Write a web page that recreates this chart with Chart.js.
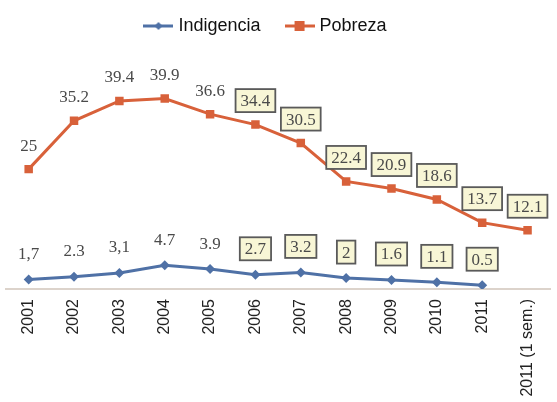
<!DOCTYPE html>
<html>
<head>
<meta charset="utf-8">
<script src="https://cdn.jsdelivr.net/npm/chart.js@4/dist/chart.umd.min.js"></script>
<style>
  html, body { margin: 0; padding: 0; background: #fff; }
  #wrap { width: 557px; height: 402px; }
</style>
</head>
<body>
<div id="wrap"><canvas id="lineChart"></canvas></div>
<script>
// data
const years = ["2001", "2002", "2003", "2004", "2005", "2006", "2007", "2008", "2009", "2010", "2011", "2011 (1 sem.)"];
const indigencia = [1.7, 2.3, 3.1, 4.7, 3.9, 2.7, 3.2, 2, 1.6, 1.1, 0.5, null];
const pobreza = [25, 35.2, 39.4, 39.9, 36.6, 34.4, 30.5, 22.4, 20.9, 18.6, 13.7, 12.1];
const indigenciaLabels = ["1,7", "2.3", "3,1", "4.7", "3.9", "2.7", "3.2", "2", "1.6", "1.1", "0.5", ""];
const pobrezaLabels = ["25", "35.2", "39.4", "39.9", "36.6", "34.4", "30.5", "22.4", "20.9", "18.6", "13.7", "12.1"];
const firstBoxed = 5; // from 2006 on the labels sit in a box

const BLUE = "#4f71a6";
const ORANGE = "#d8613a";

// legend symbol: short line with the marker on it
function legendIcon(color, style) {
  const c = document.createElement("canvas");
  c.width = 30; c.height = 12;
  const g = c.getContext("2d");
  g.strokeStyle = color;
  g.lineWidth = 3;
  g.beginPath(); g.moveTo(0, 6); g.lineTo(30, 6); g.stroke();
  g.fillStyle = color;
  if (style === "diamond") {
    g.beginPath(); g.moveTo(15, 2); g.lineTo(19, 6); g.lineTo(15, 10); g.lineTo(11, 6); g.closePath(); g.fill();
  } else {
    g.fillRect(10, 1, 10, 10);
  }
  return c;
}

const valueLabels = {
  id: "valueLabels",
  afterDatasetsDraw(chart) {
    const ctx = chart.ctx;
    const sets = [
      { meta: chart.getDatasetMeta(0), texts: indigenciaLabels, off: 26 },
      { meta: chart.getDatasetMeta(1), texts: pobrezaLabels, off: 24 },
    ];
    ctx.save();
    ctx.font = "17px 'Liberation Serif', 'DejaVu Serif', serif";
    ctx.textAlign = "center";
    ctx.textBaseline = "middle";
    sets.forEach(s => {
      s.meta.data.forEach((pt, i) => {
        const t = s.texts[i];
        if (!t || pt.skip) return;
        const x = pt.x, y = pt.y - s.off;
        if (i >= firstBoxed) {
          const w = ctx.measureText(t).width + 10;
          const h = 23;
          ctx.fillStyle = "#f8f6d6";
          ctx.fillRect(x - w / 2, y - h / 2, w, h);
          ctx.strokeStyle = "#5a5a5a";
          ctx.lineWidth = 1.8;
          ctx.strokeRect(x - w / 2, y - h / 2, w, h);
        }
        ctx.fillStyle = "#4a4a4a";
        ctx.fillText(t, x, y + 1);
      });
    });
    ctx.restore();
  }
};

// the legend in the reference sits a little left of centre
const legendShift = {
  id: "legendShift",
  afterLayout(chart) {
    chart.legend.left -= 14;
    chart.legend.right -= 14;
  }
};

new Chart(document.getElementById("lineChart").getContext("2d"), {
  type: "line",
  data: {
    labels: years,
    datasets: [
      {
        label: "Indigencia",
        data: indigencia,
        borderColor: BLUE,
        backgroundColor: BLUE,
        borderWidth: 3,
        pointStyle: "rectRot",
        pointRadius: 5,
        pointBorderWidth: 0,
        tension: 0,
      },
      {
        label: "Pobreza",
        data: pobreza,
        borderColor: ORANGE,
        backgroundColor: ORANGE,
        borderWidth: 3,
        pointStyle: "rect",
        pointRadius: 6,
        pointBorderWidth: 0,
        tension: 0,
      },
    ],
  },
  options: {
    responsive: true,
    maintainAspectRatio: false,
    animation: false,
    layout: { padding: { left: 5, right: 0, top: -11, bottom: 0 } },
    scales: {
      x: {
        offset: true,
        grid: { display: false, drawTicks: false },
        border: { display: true, color: "#dcd3cb", width: 2 },
        ticks: {
          minRotation: 90,
          maxRotation: 90,
          padding: 10,
          color: "#222",
          font: { family: "'Liberation Sans', Arial, sans-serif", size: 16 },
        },
        afterFit(scale) { scale.height = 113; },
      },
      y: {
        display: false,
        min: -0.3,
        max: 51.2,
      },
    },
    plugins: {
      legend: {
        position: "top",
        labels: {
          usePointStyle: true,
          pointStyleWidth: 22,
          color: "#111",
          font: { family: "'Liberation Sans', Arial, sans-serif", size: 18 },
          padding: 28,
          generateLabels(chart) {
            return chart.data.datasets.map((ds, i) => ({
              text: ds.label,
              fontColor: "#111",
              pointStyle: legendIcon(ds.borderColor, i === 0 ? "diamond" : "square"),
              datasetIndex: i,
              hidden: false,
              lineWidth: 0,
            }));
          },
        },
      },
      tooltip: { enabled: false },
    },
  },
  plugins: [valueLabels, legendShift],
});
</script>
</body>
</html>
